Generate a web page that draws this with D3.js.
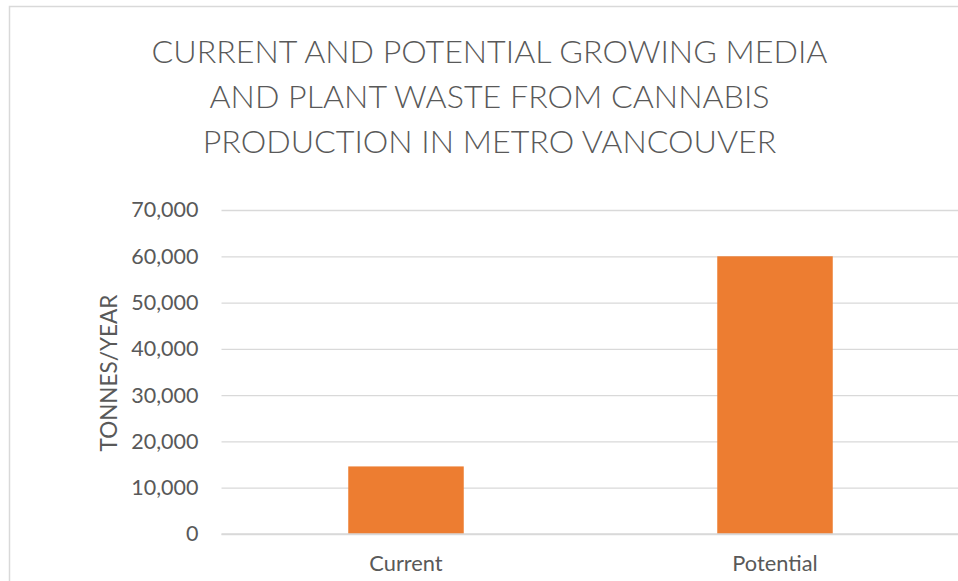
<!DOCTYPE html>
<html>
<head>
<meta charset="utf-8">
<script src="https://cdn.jsdelivr.net/npm/d3@7"></script>
<style>
  html, body { margin: 0; padding: 0; background: #fff; }
  svg { display: block; }
  text { font-family: Lato, "Open Sans", sans-serif; fill: #595959; }
</style>
</head>
<body>
<svg id="chart" width="958" height="581"></svg>
<script>
// Chart data
const categories = ["Current", "Potential"];
const values = [14600, 60000];
const yTicks = [0, 10000, 20000, 30000, 40000, 50000, 60000, 70000];
const titleLines = [
  "CURRENT AND POTENTIAL GROWING MEDIA",
  "AND PLANT WASTE FROM CANNABIS",
  "PRODUCTION IN METRO VANCOUVER"
];
const yTitle = "TONNES/YEAR";

const svg = d3.select("#chart");

// Chart area frame
svg.append("rect")
  .attr("x", 9.5).attr("y", 6.5)
  .attr("width", 1000).attr("height", 1000)
  .attr("fill", "#fff")
  .attr("stroke", "#d9d9d9")
  .attr("stroke-width", 1.5);

// Scales
const x = d3.scaleBand()
  .domain(categories)
  .range([221.5, 959.5])
  .paddingInner(0.687)
  .paddingOuter(0.3435);

const y = d3.scaleLinear()
  .domain([0, 70000])
  .range([534, 210]);

// Title
svg.append("g")
  .selectAll("text")
  .data(titleLines)
  .join("text")
  .attr("x", 489.5)
  .attr("y", (d, i) => 62.7 + i * 45.3)
  .attr("text-anchor", "middle")
  .style("font-size", "32.2px")
  .style("font-weight", 300)
  .text(d => d);

// Gridlines and y tick labels via axis
const yAxis = d3.axisLeft(y)
  .tickValues(yTicks)
  .tickSize(-(960 - 221.5))
  .tickPadding(23)
  .tickFormat(d3.format(","));

const gy = svg.append("g")
  .attr("transform", "translate(221.5,0)")
  .call(yAxis);
gy.select(".domain").remove();
gy.selectAll(".tick line")
  .attr("stroke", "#d9d9d9")
  .attr("stroke-width", 1.3);
gy.selectAll(".tick text")
  .attr("fill", "#595959")
  .style("font-size", "21.5px")
  .style("font-family", "Lato, 'Open Sans', sans-serif");

// Bars
svg.append("g")
  .selectAll("rect")
  .data(categories.map((c, i) => ({ c, v: values[i] })))
  .join("rect")
  .attr("x", d => x(d.c))
  .attr("y", d => y(d.v))
  .attr("width", x.bandwidth())
  .attr("height", d => y(0) - y(d.v))
  .attr("fill", "#ED7D31");

// Category axis line
svg.append("line")
  .attr("x1", 221.5).attr("x2", 960)
  .attr("y1", y(0)).attr("y2", y(0))
  .attr("stroke", "#d9d9d9")
  .attr("stroke-width", 1.5);

// Category labels
const xAxis = d3.axisBottom(x).tickSize(0).tickPadding(22);
const gx = svg.append("g")
  .attr("transform", `translate(0,${y(0)})`)
  .call(xAxis);
gx.select(".domain").remove();
gx.selectAll(".tick text")
  .attr("fill", "#595959")
  .style("font-size", "21.8px")
  .style("font-family", "Lato, 'Open Sans', sans-serif");

// Y axis title
svg.append("text")
  .attr("transform", "translate(117,373) rotate(-90)")
  .attr("text-anchor", "middle")
  .style("font-size", "22.5px")
  .text(yTitle);
</script>
</body>
</html>
